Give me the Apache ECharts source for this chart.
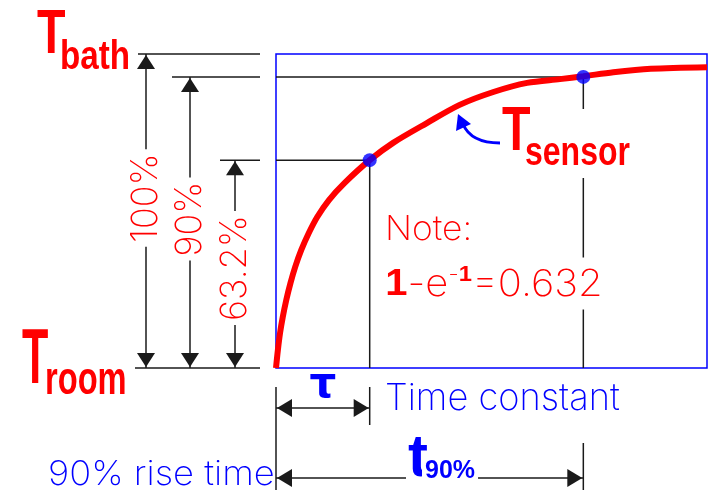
<!DOCTYPE html>
<html>
<head>
<meta charset="utf-8">
<script src="https://cdn.jsdelivr.net/npm/echarts@6/dist/echarts.min.js"></script>
<style>
html, body { margin: 0; padding: 0; background: #fff; }
#chart { width: 708px; height: 490px; }
</style>
</head>
<body>
<div id="chart"></div>
<script>
// sensor step response: time in units of tau, temperature in % of (Tbath - Troom)
const curveTime = [0, 0.02, 0.043, 0.072, 0.11, 0.155, 0.205, 0.27, 0.35, 0.44, 0.565, 0.73, 1.0, 1.25, 1.61, 1.96, 2.32, 2.68, 3.03, 3.28, 3.6, 4.0, 4.6];
const curveTemp = [0, 5.7, 11.1, 16.2, 21.7, 27.1, 32.2, 37.6, 43.0, 48.1, 53.5, 58.9, 66.2, 71.7, 78.0, 83.8, 87.9, 90.8, 92.0, 92.9, 94.2, 95.3, 95.8];

const tauTime = 1.0;
const t90Time = 3.28;
const level63 = 66.2;
const level90 = 92.7;
const levelFull = 100;
const levelLabels = ['100%', '90%', '63.2%'];

const RED = '#ff0000';
const BLUE = '#0000ff';
const INK = '#1a1a1a';
const THIN = 'Inter, "Open Sans", sans-serif';
const BOLD = '"Liberation Sans", Arial, sans-serif';

const chart = echarts.init(document.getElementById('chart'));

chart.setOption({
  animation: false,
  grid: { left: 276, top: 54, right: 1, bottom: 122, show: true, borderColor: BLUE, borderWidth: 1.5 },
  xAxis: { type: 'value', min: 0, max: 4.6, show: false },
  yAxis: { type: 'value', min: 0, max: 100, show: false },
  series: [
    // guide lines from the axis to the two marked points
    { type: 'line', data: [[0, level63], [tauTime, level63], [tauTime, 0]], showSymbol: false,
      lineStyle: { color: INK, width: 1.5 }, z: 1 },
    { type: 'line', data: [[0, level90], [t90Time, level90], [t90Time, 0]], showSymbol: false,
      lineStyle: { color: INK, width: 1.5 }, z: 1 },
    { type: 'line', name: 'T sensor', data: curveTime.map((t, i) => [t, curveTemp[i]]),
      smooth: 0.3, showSymbol: false, lineStyle: { color: RED, width: 6 }, z: 3 },
    { type: 'scatter', data: [[tauTime, level63], [t90Time, level90]], symbolSize: 14,
      itemStyle: { color: BLUE }, z: 4 }
  ]
});

const px = v => chart.convertToPixel({ gridIndex: 0 }, v);
const xLeft = px([0, 0])[0];
const xTau = px([tauTime, 0])[0];
const xT90 = px([t90Time, 0])[0];
const yRoom = px([0, 0])[1];
const yLevels = [levelFull, level90, level63].map(v => px([0, v])[1]);

const g = [];
const line = (x1, y1, x2, y2) => g.push({ type: 'line', z: 50, shape: { x1, y1, x2, y2 }, style: { stroke: INK, lineWidth: 1.5 } });
const tri = pts => g.push({ type: 'polygon', z: 51, shape: { points: pts }, style: { fill: INK } });
const arrowUp = (x, y) => tri([[x, y + 1], [x - 9, y + 15], [x + 9, y + 15]]);
const arrowDown = (x, y) => tri([[x, y - 1], [x - 9, y - 15], [x + 9, y - 15]]);
const arrowLeft = (x, y) => tri([[x + 1, y], [x + 16, y - 9], [x + 16, y + 9]]);
const arrowRight = (x, y) => tri([[x - 1, y], [x - 16, y - 9], [x - 16, y + 9]]);
const text = (x, y, str, size, opt = {}) => g.push({
  type: 'text', x, y, z: 100,
  scaleX: opt.scaleX || 1, scaleY: opt.scaleY || 1, rotation: opt.rotation || 0,
  style: Object.assign({
    text: str, fontSize: size, fontFamily: opt.bold ? BOLD : THIN,
    fontWeight: opt.bold ? 'bold' : 200, fill: opt.color || RED,
    align: opt.align || 'left', verticalAlign: 'middle'
  }, opt.style || {})
});

// left dimension arrows
const extStart = [138, 172, 220];
const dimX = [146, 190, 235];
const labelY = [198, 219, 268];
yLevels.forEach((y, i) => {
  line(extStart[i], y, 260, y);
  line(dimX[i], y, dimX[i], yRoom);
  arrowUp(dimX[i], y);
  arrowDown(dimX[i], yRoom);
  text(dimX[i], labelY[i], levelLabels[i], 36, {
    align: 'center', rotation: Math.PI / 2,
    style: { backgroundColor: '#fff', padding: [0, 4] }
  });
});
line(135, yRoom, 260, yRoom);

// T bath / T room
text(37, 35.5, 'T', 63, { bold: true, scaleX: 0.74 });
text(60, 58, 'bath', 41, { bold: true, scaleX: 0.81 });
text(22, 362, 'T', 77, { bold: true, scaleX: 0.56 });
text(45, 381, 'room', 46, { bold: true, scaleX: 0.71 });

// T sensor label with pointer
g.push({ type: 'rect', z: 90, shape: { x: 576, y: 109, width: 14, height: 69 }, style: { fill: '#fff' } });
text(502, 132.5, 'T', 63, { bold: true, scaleX: 0.74 });
text(525, 154, 'sensor', 40.5, { bold: true, scaleX: 0.79 });
g.push({ type: 'bezierCurve', z: 60,
  shape: { x1: 500, y1: 143, cpx1: 480, cpy1: 143, cpx2: 468, cpy2: 136, x2: 463, y2: 124 },
  style: { stroke: BLUE, lineWidth: 3, fill: null } });
g.push({ type: 'polygon', z: 61, shape: { points: [[458, 114], [456, 131], [471, 124]] }, style: { fill: BLUE } });

// note
text(385, 229.5, 'Note:', 34, { scaleX: 1.04 });
g.push({
  type: 'text', x: 383, y: 283.5, z: 100, scaleX: 1.08,
  style: {
    text: '{b|1}{n|-e}{sup|-}{supb|1}{n|=0.632}',
    verticalAlign: 'middle', backgroundColor: '#fff', padding: [6, 2, 6, 2],
    rich: {
      b: { fontFamily: BOLD, fontWeight: 'bold', fontSize: 37, fill: RED, verticalAlign: 'bottom' },
      n: { fontFamily: THIN, fontWeight: 200, fontSize: 37, fill: RED, verticalAlign: 'bottom' },
      sup: { fontFamily: THIN, fontWeight: 200, fontSize: 22, fill: RED, verticalAlign: 'bottom', padding: [0, 0, 18, 0] },
      supb: { fontFamily: BOLD, fontWeight: 'bold', fontSize: 22, fill: RED, verticalAlign: 'bottom', padding: [0, 0, 18, 0] }
    }
  }
});

// time axis annotations
line(xLeft, 387, xLeft, 490);
line(xTau, 387, xTau, 425);
line(xT90, 443, xT90, 490);
line(xLeft, 408, xTau, 408);
arrowLeft(xLeft, 408);
arrowRight(xTau, 408);
line(xLeft, 478, xT90, 478);
arrowLeft(xLeft, 478);
arrowRight(xT90, 478);
text(323, 386, 'τ', 42, { bold: true, color: BLUE, align: 'center', style: { fontFamily: '"DejaVu Sans", sans-serif' } });
text(385, 399, 'Time constant', 37, { color: BLUE, scaleX: 0.98 });
text(48, 474.5, '90% rise time', 34, { color: BLUE, scaleX: 1.07 });
text(406, 459, 't', 60, { bold: true, color: BLUE, style: { backgroundColor: '#fff', padding: [0, 2] } });
text(422, 471, '90%', 25, { bold: true, color: BLUE, style: { backgroundColor: '#fff', padding: [0, 3] } });

chart.setOption({ graphic: { elements: g } });
</script>
</body>
</html>
